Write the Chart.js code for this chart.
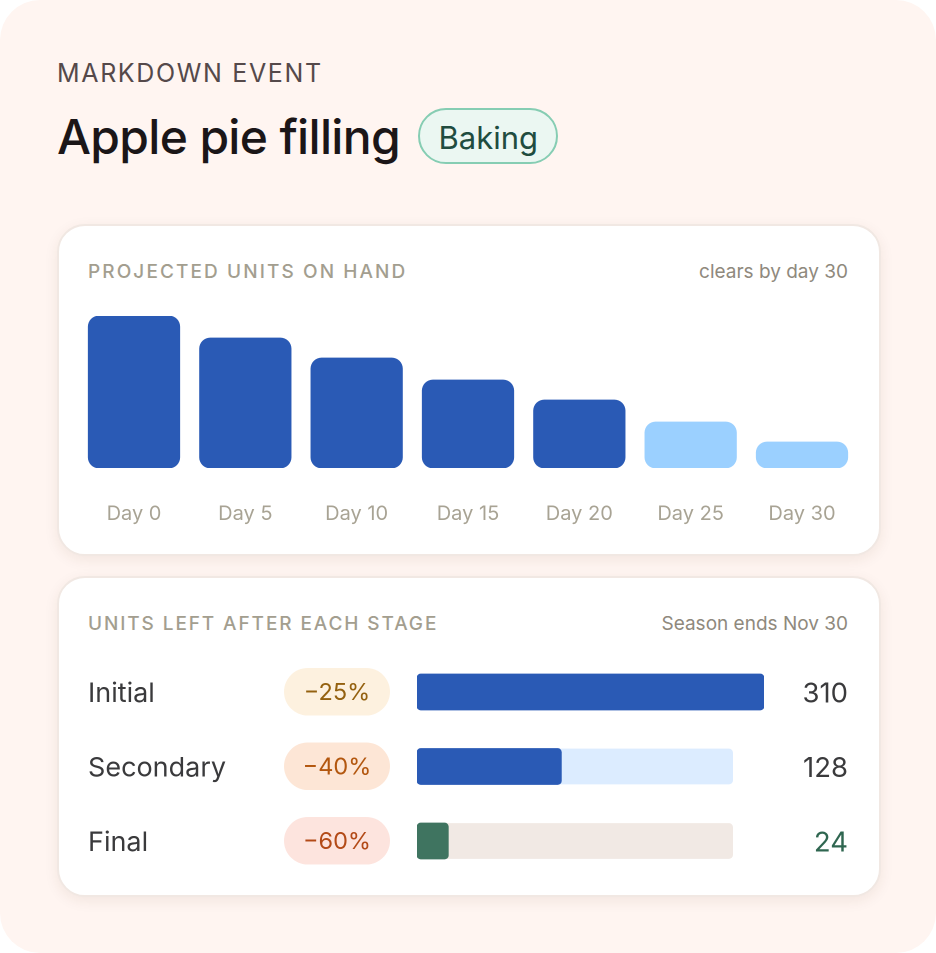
<!DOCTYPE html>
<html><head><meta charset="utf-8">
<script src="https://cdn.jsdelivr.net/npm/chart.js@4"></script>
<style>
html,body{margin:0;padding:0;background:#fff;width:936px;height:953px;overflow:hidden}
body{font-family:Inter,sans-serif;position:relative}
#panel{position:absolute;left:0;top:0;width:936px;height:953px;background:#fff5f1;border-radius:40px}
.card{position:absolute;left:57px;width:820px;background:#fff;border:2px solid #f1e8e3;border-radius:28px;box-shadow:0 4px 14px rgba(90,50,30,.08);box-sizing:content-box}
.t{position:absolute;white-space:nowrap;line-height:1}
canvas{position:absolute}
</style></head><body>
<div id="panel"></div>
<div class="t" style="left:57px;top:61px;font-size:25px;letter-spacing:1.65px;color:#55494a">MARKDOWN EVENT</div>
<div class="t" style="left:57px;top:113px;font-size:48px;font-weight:500;letter-spacing:-.68px;color:#1b1618">Apple pie filling</div>
<div class="t" style="left:418px;top:108px;width:136px;height:52px;border:2px solid #86cdb3;border-radius:28px;background:#ebf7f2;box-sizing:content-box"></div>
<div class="t" style="left:438.5px;top:122px;font-size:31px;color:#204c3f">Baking</div>
<div class="card" style="top:224px;height:328px"></div>
<div class="card" style="top:576px;height:317px"></div>
<div class="t" style="left:88px;top:262px;font-size:19px;font-weight:500;letter-spacing:2.1px;color:#a39e8f">PROJECTED UNITS ON HAND</div>
<div class="t" style="right:88px;top:262px;font-size:19px;color:#8f897d">clears by day 30</div>
<div class="t" style="left:88px;top:614px;font-size:19px;font-weight:500;letter-spacing:1.9px;color:#a39e8f">UNITS LEFT AFTER EACH STAGE</div>
<div class="t" style="right:88px;top:614px;font-size:19px;color:#8f897d">Season ends Nov 30</div>
<canvas id="days" style="left:68px;top:306px;width:800px;height:224px"></canvas>
<canvas id="stages" style="left:88px;top:644px;width:770px;height:245px"></canvas>
<script>
const dayLabels = ["Day 0","Day 5","Day 10","Day 15","Day 20","Day 25","Day 30"];
const unitsOnHand = [760,650,550,440,340,230,130];
const dayColors = ["#2a5ab5","#2a5ab5","#2a5ab5","#2a5ab5","#2a5ab5","#9bd0ff","#9bd0ff"];
const stageLabels = ["Initial","Secondary","Final"];
const markdowns = ["−25%","−40%","−60%"];
const unitsLeft = [310,128,24];
const barLengths = [310,129,28];
const trackLengths = [282,282,282];
const trackColors = ["#dcecff","#dcecff","#f1e9e4"];
const fillColors = ["#2a5ab5","#2a5ab5","#3f7460"];
const pillColors = ["#fdf1df","#fde6d6","#fde4de"];
const pillText = ["#94610f","#b3570f","#b34a17"];
const valueText = ["#3a3a3c","#3a3a3c","#2f6650"];

new Chart(document.getElementById('days'),{
  type:'bar',
  data:{labels:dayLabels,datasets:[{data:unitsOnHand,backgroundColor:dayColors,borderRadius:11,borderSkipped:false,barThickness:91.6}]},
  options:{responsive:false,animation:false,devicePixelRatio:2,
    layout:{padding:{left:10.33,right:10.33,top:10,bottom:0}},
    plugins:{legend:{display:false},tooltip:{enabled:false}},
    scales:{
      x:{grid:{display:false},border:{display:false},
         afterFit(s){s.height=62;s.paddingLeft=0;s.paddingRight=0},
         ticks:{color:'#a8a394',font:{family:'Inter',size:20},padding:26,maxRotation:0,autoSkip:false}},
      y:{display:false,min:0,max:760}
    }}
});

const pillPlugin={id:'pills',afterDraw(c){
  const ctx=c.ctx,y=c.scales.y;
  ctx.save();
  stageLabels.forEach((_,i)=>{
    const cy=y.getPixelForValue(i);
    ctx.fillStyle=pillColors[i];
    ctx.beginPath();ctx.roundRect(284-88,cy-24,106,47.5,24);ctx.fill();
    ctx.fillStyle=pillText[i];ctx.font='23.5px Inter';ctx.textAlign='center';ctx.textBaseline='middle';
    ctx.fillText(markdowns[i],337-88,cy+1);
    ctx.fillStyle=valueText[i];ctx.font='27.5px Inter';ctx.textAlign='right';
    ctx.fillText(String(unitsLeft[i]),848-88,cy+2);
  });
  ctx.restore();
}};
new Chart(document.getElementById('stages'),{
  type:'bar',
  data:{labels:stageLabels,datasets:[
    {data:barLengths,backgroundColor:fillColors,borderRadius:4,borderSkipped:false,barThickness:36,order:1},
    {data:trackLengths,backgroundColor:trackColors,borderRadius:4,borderSkipped:false,barThickness:35,order:2}
  ]},
  options:{indexAxis:'y',responsive:false,animation:false,devicePixelRatio:2,
    layout:{padding:{left:0,right:94,top:10.75,bottom:10.75}},
    plugins:{legend:{display:false},tooltip:{enabled:false}},
    datasets:{bar:{grouped:false}},
    scales:{
      x:{display:false,min:0,max:310},
      y:{grid:{display:false},border:{display:false},
         afterFit(s){s.width=329;s.paddingTop=0;s.paddingBottom=0},
         ticks:{color:'#3a3a3c',font:{family:'Inter',size:27},crossAlign:'far',padding:0,labelOffset:2,autoSkip:false}}
    }},
  plugins:[pillPlugin]
});
</script>
</body></html>
